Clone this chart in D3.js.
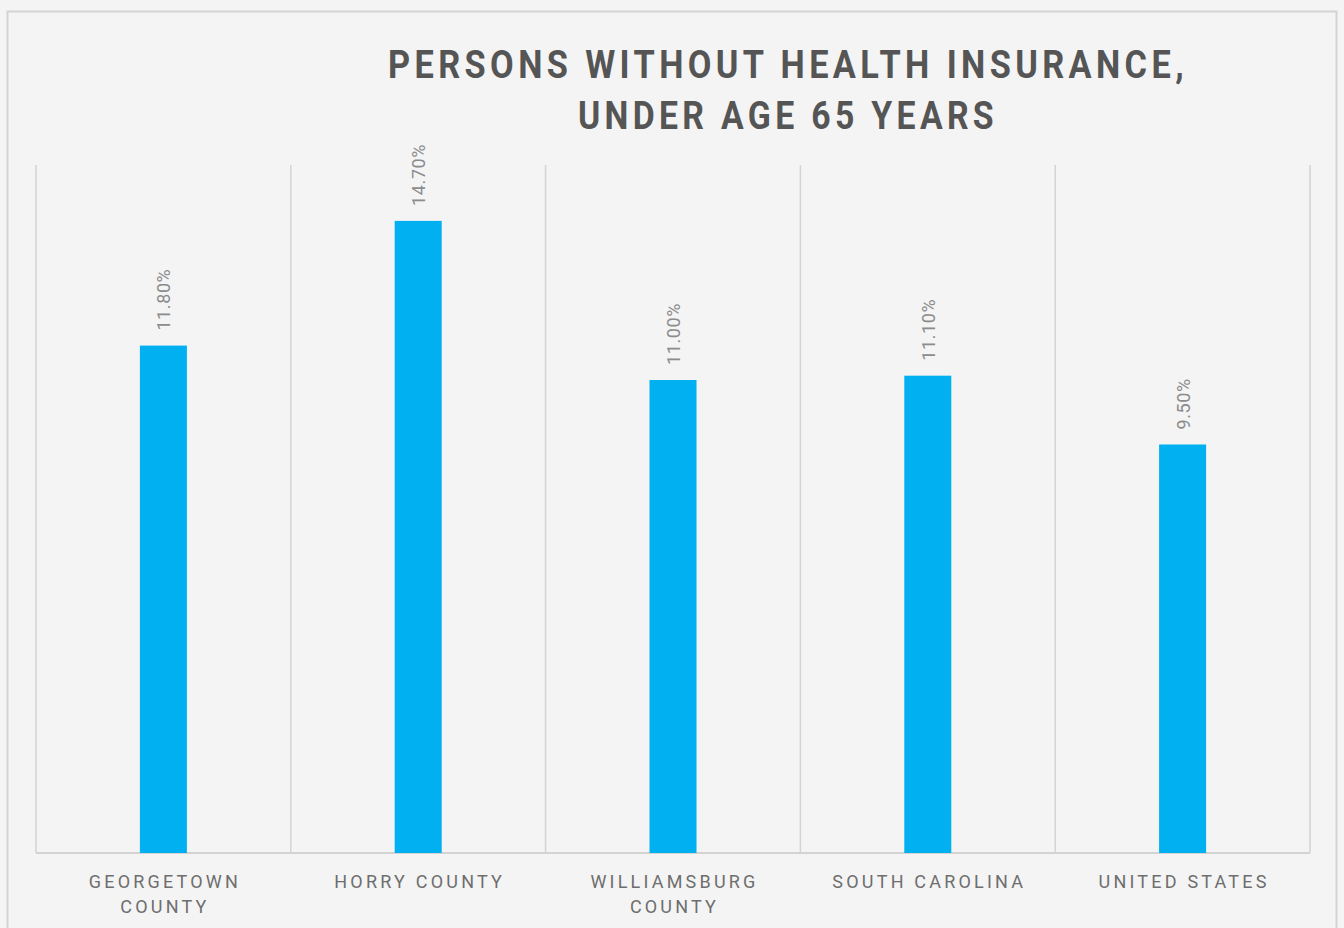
<!DOCTYPE html>
<html>
<head>
<meta charset="utf-8">
<script src="https://cdn.jsdelivr.net/npm/d3@7"></script>
<style>
  body { margin: 0; background: #f3f4f3; }
</style>
</head>
<body>
<div id="chart"></div>
<script>
var categories = [['GEORGETOWN', 'COUNTY'], ['HORRY COUNTY'], ['WILLIAMSBURG', 'COUNTY'], ['SOUTH CAROLINA'], ['UNITED STATES']];
var values = [11.8, 14.7, 11.0, 11.1, 9.5];
var titleLines = ['PERSONS WITHOUT HEALTH INSURANCE,', 'UNDER AGE 65 YEARS'];
var titleWidths = [800, 420];

var width = 1344, height = 928;
var plot = {left: 36, right: 1310, top: 165, bottom: 853};

var svg = d3.select('#chart').append('svg')
    .attr('width', width)
    .attr('height', height);

// outer frame
svg.append('rect')
    .attr('x', 7.5).attr('y', 11.5)
    .attr('width', 1329).attr('height', 930)
    .attr('fill', '#f4f4f4')
    .attr('stroke', '#d4d4d4')
    .attr('stroke-width', 2);

var x = d3.scaleBand()
    .domain(d3.range(values.length))
    .range([plot.left, plot.right])
    .paddingInner(0).paddingOuter(0);

var y = d3.scaleLinear()
    .domain([0, 16])
    .range([plot.bottom, plot.top]);

// vertical gridlines (category separators)
var bounds = d3.range(values.length + 1).map(function(i){
    return i < values.length ? x(i) : x(values.length - 1) + x.bandwidth();
});
svg.selectAll('.grid')
    .data(bounds)
    .enter().append('line')
    .attr('class', 'grid')
    .attr('x1', function(d){ return d; })
    .attr('x2', function(d){ return d; })
    .attr('y1', plot.top)
    .attr('y2', plot.bottom)
    .attr('stroke', '#d3d3d3')
    .attr('stroke-width', 1.5);

// baseline
svg.append('line')
    .attr('x1', plot.left).attr('x2', plot.right)
    .attr('y1', plot.bottom).attr('y2', plot.bottom)
    .attr('stroke', '#d3d3d3')
    .attr('stroke-width', 2);

var barW = 47;
svg.selectAll('.bar')
    .data(values)
    .enter().append('rect')
    .attr('class', 'bar')
    .attr('x', function(d, i){ return x(i) + x.bandwidth() / 2 - barW / 2; })
    .attr('y', function(d){ return y(d); })
    .attr('width', barW)
    .attr('height', function(d){ return y(0) - y(d); })
    .attr('fill', '#00b0f0');

// value labels, rotated
svg.selectAll('.val')
    .data(values)
    .enter().append('text')
    .attr('class', 'val')
    .attr('transform', function(d, i){
        return 'translate(' + (x(i) + x.bandwidth() / 2 + 7) + ',' + (y(d) - 15) + ') rotate(-90)';
    })
    .attr('text-anchor', 'start')
    .attr('font-family', 'Roboto, "Liberation Sans", sans-serif')
    .attr('font-size', 18)
    .attr('letter-spacing', 0.6)
    .attr('fill', '#8c8c8c')
    .text(function(d){ return d.toFixed(2) + '%'; });

// category labels
var cat = svg.selectAll('.cat')
    .data(categories)
    .enter().append('text')
    .attr('class', 'cat')
    .attr('y', 888)
    .attr('text-anchor', 'middle')
    .attr('font-family', 'Roboto, "Liberation Sans", sans-serif')
    .attr('font-size', 18)
    .attr('letter-spacing', 3.2)
    .attr('fill', '#6e6e6e');
cat.selectAll('tspan')
    .data(function(d, i){ return d.map(function(t){ return {t: t, i: i}; }); })
    .enter().append('tspan')
    .attr('x', function(d){ return x(d.i) + x.bandwidth() / 2 + 1.5; })
    .attr('dy', function(d, j){ return j === 0 ? 0 : 25; })
    .text(function(d){ return d.t; });

// title
svg.selectAll('.title')
    .data(titleLines)
    .enter().append('text')
    .attr('class', 'title')
    .attr('x', 788)
    .attr('y', function(d, i){ return 78 + i * 51; })
    .attr('text-anchor', 'middle')
    .attr('font-family', 'Roboto, "Liberation Sans", sans-serif')
    .attr('font-weight', 'bold')
    .attr('font-size', 39)
    .attr('letter-spacing', 5)
    .attr('textLength', function(d, i){ return titleWidths[i]; })
    .attr('lengthAdjust', 'spacingAndGlyphs')
    .attr('fill', '#555555')
    .text(function(d){ return d; });
</script>
</body>
</html>
